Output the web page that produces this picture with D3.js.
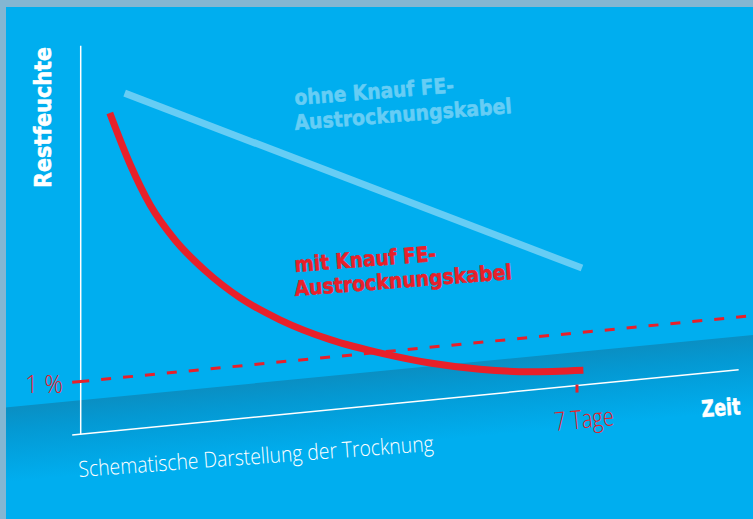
<!DOCTYPE html>
<html><head><meta charset="utf-8">
<script src="https://cdn.jsdelivr.net/npm/d3@7"></script>
<style>html,body{margin:0;padding:0;background:#00aeef;}svg{display:block;}</style>
</head><body>
<script>
// ---- data (schematic: days vs. residual moisture in %) ----
const withoutDays = [0.62, 7.07];
const withoutPct  = [6.39, 2.22];
const withDays = [0.41, 0.70, 0.98, 1.33, 1.75, 2.25, 2.81, 3.52, 4.28, 4.93, 5.63, 6.34, 7.09];
const withPct  = [6.04, 5.02, 4.22, 3.51, 2.88, 2.29, 1.80, 1.33, 0.96, 0.70, 0.49, 0.35, 0.28];
const limitPct = 1;
const tickDay = 7;
const axisDays = [-0.12, 9.28];
const axisPct = [0, 7.37];
const yLabel = "Restfeuchte";
const xLabel = "Zeit";
const limitLabel = "1 %";
const tickLabel = "7 Tage";
const caption = "Schematische Darstellung der Trocknung";
const withoutLabel = ["ohne Knauf FE-", "Austrocknungskabel"];
const withLabel = ["mit Knauf FE-", "Austrocknungskabel"];

const W = 753, H = 519;
const BLUE = "#00aeef", RED = "#e8202a", LIGHT = "#66cdf5";
const svg = d3.select("body").append("svg").attr("width", W).attr("height", H);

const x = d3.scaleLinear().domain([0, 7]).range([80.7, 577]);
const y = d3.scaleLinear().domain([0, 1]).range([434.2, 381.5]);
const skew = -0.098;
const P = (d, v) => [x(d), y(v) + skew * (x(d) - x(0))];

// background
svg.append("rect").attr("width", W).attr("height", H).attr("fill", BLUE);
const defs = svg.append("defs");
const g1 = defs.append("linearGradient").attr("id", "band").attr("x1", 0).attr("y1", 0).attr("x2", 0).attr("y2", 1);
g1.append("stop").attr("offset", 0).attr("stop-color", "#0a8fc3");
g1.append("stop").attr("offset", 0.3).attr("stop-color", "#0499d3");
g1.append("stop").attr("offset", 1).attr("stop-color", BLUE);
svg.append("g").attr("transform", `translate(0,408) skewY(${Math.atan(-0.097) * 180 / Math.PI})`)
  .append("rect").attr("x", 0).attr("y", 0).attr("width", W).attr("height", 75).attr("fill", "url(#band)");
// frame
svg.append("rect").attr("x", 0).attr("y", 0).attr("width", W).attr("height", 7).attr("fill", "#84b6d2");
svg.append("rect").attr("x", 0).attr("y", 0).attr("width", 6).attr("height", H).attr("fill", "#84b6d2");

// axes
const line = d3.line().x(d => d[0]).y(d => d[1]);
svg.append("path").attr("d", line([P(0, axisPct[0]), P(0, axisPct[1])]))
  .attr("stroke", "#fff").attr("stroke-width", 1.5).attr("fill", "none");
svg.append("path").attr("d", line([P(axisDays[0], 0), P(axisDays[1], 0)]))
  .attr("stroke", "#fff").attr("stroke-width", 1.5).attr("fill", "none");

// 1% limit
svg.append("path").attr("d", line([P(axisDays[0], limitPct), P(0.12, limitPct)]))
  .attr("stroke", RED).attr("stroke-width", 3).attr("fill", "none");
svg.append("path").attr("d", line([P(0.12, limitPct), P(9.5, limitPct)]))
  .attr("stroke", RED).attr("stroke-width", 3).attr("fill", "none")
  .attr("stroke-dasharray", "0 12 10 0").attr("stroke-dashoffset", 0);

// tick 7 days
const t0 = P(tickDay, 0);
svg.append("line").attr("x1", t0[0]).attr("x2", t0[0]).attr("y1", t0[1] - 1).attr("y2", t0[1] + 7)
  .attr("stroke", RED).attr("stroke-width", 3);

// lines
svg.append("path").attr("d", line(withoutDays.map((d, i) => P(d, withoutPct[i]))))
  .attr("stroke", LIGHT).attr("stroke-width", 7).attr("fill", "none");
svg.append("path").attr("d", d3.line().curve(d3.curveMonotoneX)(withDays.map((d, i) => P(d, withPct[i]))))
  .attr("stroke", RED).attr("stroke-width", 7).attr("fill", "none");

// texts
function txt(s, px, py, rot, size, weight, fill, len, family, sw) {
  const t = svg.append("text").attr("transform", `translate(${px},${py}) rotate(${rot})`)
    .attr("font-family", family).attr("font-size", size).attr("font-weight", weight)
    .attr("fill", fill).attr("textLength", len).attr("lengthAdjust", "spacingAndGlyphs").text(s);
  if (sw) t.attr("stroke", fill).attr("stroke-width", sw).attr("stroke-linejoin", "round");
}
const BOLD = "'DejaVu Sans', sans-serif", THIN = "'Open Sans', 'Liberation Sans Narrow', sans-serif";
txt(yLabel, 51, 188, -90, 23, 700, "#fff", 141, BOLD, 0.6);
txt(withoutLabel[0], 295, 105, -4.5, 21, 700, LIGHT, 160, BOLD, 0.6);
txt(withoutLabel[1], 295, 130, -4.5, 21, 700, LIGHT, 218, BOLD, 0.6);
txt(withLabel[0], 295, 272, -4.5, 21, 700, RED, 142, BOLD, 0.6);
txt(withLabel[1], 295, 296, -4.5, 21, 700, RED, 218, BOLD, 0.6);
txt(limitLabel, 25, 393, 0, 26, 300, RED, 38, THIN);
txt(tickLabel, 555, 431, -5.5, 26, 300, RED, 60, THIN);
txt(xLabel, 702, 417, -4, 23, 700, "#fff", 39, BOLD, 0.6);
txt(caption, 79, 477, -4.2, 22, 300, "#fff", 356, THIN);
</script>
</body></html>
